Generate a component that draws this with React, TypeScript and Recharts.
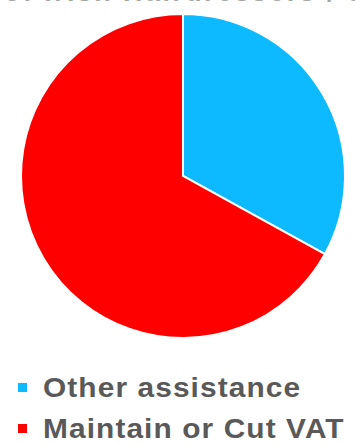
import React from "react";
import { PieChart, Pie, Cell } from "recharts";

const categories = ["Other assistance", "Maintain or Cut VAT"];
const values = [33, 67];
const colors = ["#0DB9FF", "#FF0000"];
const titleText = "of Irish Hairdressers / Salons";

const data = categories.map((name, i) => ({ name, value: values[i] }));

export default function App() {
  return (
    <div style={{ position: "absolute", left: 0, top: 0, width: 355, height: 444, background: "#fff", overflow: "hidden" }}>
      <div
        style={{
          position: "absolute",
          left: 4,
          top: -23,
          fontFamily: "'Liberation Sans', Arial, sans-serif",
          fontSize: 27,
          lineHeight: "31px",
          fontWeight: 700,
          color: "#a6a6a6",
          letterSpacing: 2.4,
          whiteSpace: "nowrap",
        }}
      >
        {titleText}
      </div>
      <PieChart width={355} height={360} margin={{ top: 0, right: 0, bottom: 0, left: 0 }}>
        <Pie
          data={data}
          dataKey="value"
          nameKey="name"
          cx={183}
          cy={176}
          outerRadius={162}
          startAngle={90}
          endAngle={-270}
          stroke="#ffffff"
          strokeWidth={2}
          isAnimationActive={false}
        >
          {data.map((d, i) => (
            <Cell key={d.name} fill={colors[i]} />
          ))}
        </Pie>
      </PieChart>
      <div style={{ position: "absolute", left: 0, top: 368, width: 355, fontFamily: "'Liberation Sans', Arial, sans-serif" }}>
        {data.map((d, i) => (
          <div
            key={d.name}
            style={{
              position: "relative",
              height: 41,
              whiteSpace: "nowrap",
            }}
          >
            <span
              style={{
                position: "absolute",
                left: 18,
                top: 15,
                width: 9,
                height: 9,
                background: colors[i],
              }}
            />
            <span
              style={{
                position: "absolute",
                left: 43,
                top: 2,
                fontSize: 27,
                fontWeight: 700,
                letterSpacing: 1,
                color: "#595959",
                transform: "scaleX(1.105)",
                transformOrigin: "left center",
                lineHeight: "36px",
              }}
            >
              {d.name}
            </span>
          </div>
        ))}
      </div>
    </div>
  );
}
